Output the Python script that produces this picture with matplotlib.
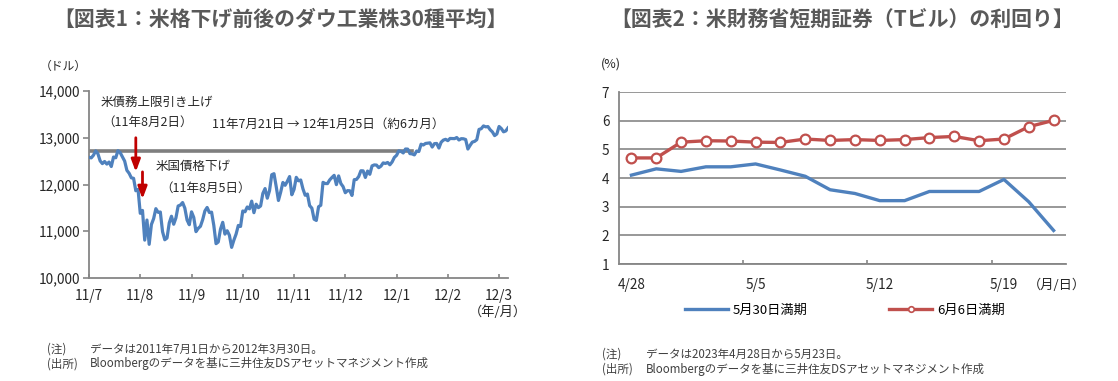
import matplotlib.pyplot as plt
from matplotlib.lines import Line2D
from matplotlib.ticker import FuncFormatter
import numpy as np

plt.rcParams['font.family'] = ['Noto Sans CJK JP', 'DejaVu Sans']

# --- chart 1 data: Dow Jones Industrial Average, daily close, 2011/7/1 - 2012/3/30
dow_jul = [12582, 12569, 12626, 12719, 12657, 12505, 12447, 12492, 12437, 12480,
           12385, 12587, 12572, 12724, 12681, 12592, 12501, 12303, 12240, 12143]
dow_aug = [12132, 11866, 11897, 11384, 11445, 10810, 11240, 10720, 11144, 11270,
           11483, 11406, 11411, 10991, 10818, 10855, 11177, 11321, 11150, 11285,
           11540, 11560, 11614]
dow_sep = [11494, 11240, 11140, 11415, 11296, 10992, 11062, 11106, 11247, 11434,
           11509, 11401, 11408, 11125, 10734, 10771, 11044, 11191, 10939, 11011,
           10913]
dow_oct = [10655, 10809, 10940, 11124, 11103, 11433, 11416, 11519, 11479, 11644,
           11397, 11578, 11505, 11541, 11809, 11913, 11707, 11869, 12209, 12231,
           11955]
dow_nov = [11658, 11836, 12044, 11983, 12069, 12170, 11781, 11894, 12153, 12079,
           12096, 11906, 11770, 11796, 11548, 11494, 11258, 11231, 11524, 11556,
           12046]
dow_dec = [12021, 12019, 12098, 12150, 12196, 11997, 12184, 12021, 11955, 11824,
           11869, 11866, 11766, 12103, 12108, 12169, 12294, 12292, 12151, 12288,
           12218]
dow_jan = [12398, 12419, 12415, 12360, 12393, 12462, 12450, 12471, 12422, 12482,
           12579, 12624, 12720, 12709, 12675, 12759, 12757, 12660, 12654, 12633]
dow_feb = [12716, 12705, 12862, 12845, 12878, 12884, 12891, 12801, 12874, 12878,
           12780, 12904, 12950, 12966, 12938, 12985, 12983, 12981, 13005, 12952]
dow_mar = [12980, 12978, 12962, 12759, 12837, 12907, 12922, 12959, 13178, 13194,
           13253, 13233, 13239, 13171, 13125, 13046, 13081, 13241, 13197, 13127,
           13145, 13212]
dow = dow_jul + dow_aug + dow_sep + dow_oct + dow_nov + dow_dec + dow_jan + dow_feb + dow_mar

dow_tick_idx = [0, 23, 46, 69, 92, 115, 138, 161, 184]
dow_tick_labels = ['11/7', '11/8', '11/9', '11/10', '11/11', '11/12', '12/1', '12/2', '12/3']

ref_level = 12724          # 2011/7/21 close
ref_span = [0, 145]        # drawn until the index recovered it (2012/1/25)
arrow_idx = [21, 24]       # 8/2, 8/5
arrow_top = [13000, 12270]
arrow_tip = [12270, 11690]

# --- chart 2 data: T-bill yields
tb_dates = ['4/28', '5/1', '5/2', '5/3', '5/4', '5/5', '5/8', '5/9', '5/10',
            '5/11', '5/12', '5/15', '5/16', '5/17', '5/18', '5/19', '5/22', '5/23']
may30 = [4.10, 4.32, 4.23, 4.39, 4.39, 4.49, 4.28, 4.06, 3.59,
         3.46, 3.21, 3.21, 3.53, 3.53, 3.53, 3.95, 3.17, 2.17]
jun6 = [4.70, 4.70, 5.25, 5.30, 5.29, 5.25, 5.24, 5.36, 5.31,
        5.34, 5.31, 5.34, 5.41, 5.45, 5.30, 5.36, 5.79, 6.01]

W, H = 1118, 381
fig = plt.figure(figsize=(W / 100, H / 100), dpi=100)


def box(l, t, r, b):
    return [l / W, 1 - b / H, (r - l) / W, (b - t) / H]


def px(x, y):
    return x / W, 1 - y / H


blue = '#4F81BD'
red = '#C0504D'
axis_gray = '#868686'
txt = '#262626'

# ---------------- chart 1
ax1 = fig.add_axes(box(89, 91, 508, 278))
x = np.arange(len(dow))
ax1.plot(ref_span, [ref_level, ref_level], color='#7F7F7F', lw=2.6, zorder=2)
ax1.plot(x, dow, color=blue, lw=2.3, zorder=3)
ax1.set_xlim(0, len(dow) - 1)
ax1.set_ylim(10000, 14000)
ax1.set_yticks([10000, 11000, 12000, 13000, 14000])
ax1.yaxis.set_major_formatter(FuncFormatter(lambda v, p: f'{int(v):,}'))
ax1.set_xticks(dow_tick_idx, dow_tick_labels)
for s in ['top', 'right']:
    ax1.spines[s].set_visible(False)
for s in ['left', 'bottom']:
    ax1.spines[s].set_color(axis_gray)
    ax1.spines[s].set_linewidth(1.3)
ax1.tick_params(axis='y', direction='out', length=4, color=axis_gray, width=1.2,
                labelsize=9.8, pad=2, labelcolor=txt)
ax1.tick_params(axis='x', direction='in', length=3, color=axis_gray, width=1.2,
                labelsize=9.8, pad=8, labelcolor=txt)

for i, t0, t1 in zip(arrow_idx, arrow_top, arrow_tip):
    ax1.annotate('', xy=(i, t1), xytext=(i, t0),
                 arrowprops=dict(arrowstyle='-|>,head_width=0.3,head_length=0.8',
                                 color='#C00000', lw=2.0, shrinkA=0, shrinkB=0,
                                 mutation_scale=9), zorder=4)

fig.text(*px(101, 102), '米債務上限引き上げ', fontsize=9, color=txt, va='center')
fig.text(*px(102, 122), '（11年8月2日）', fontsize=9, color=txt, va='center')
fig.text(*px(212, 124), '11年7月21日 → 12年1月25日（約6カ月）', fontsize=9, color=txt, va='center')
fig.text(*px(156, 166), '米国債格下げ', fontsize=9, color=txt, va='center')
fig.text(*px(160, 188), '（11年8月5日）', fontsize=9, color=txt, va='center')

fig.text(*px(280, 19), '【図表1：米格下げ前後のダウ工業株30種平均】', fontsize=15,
         fontweight='bold', color='#595959', ha='center', va='center')
fig.text(*px(63, 66), '（ドル）', fontsize=8.5, color=txt, ha='center', va='center')
fig.text(*px(498, 312), '（年/月）', fontsize=9.5, color=txt, ha='center', va='center')

fig.text(*px(47, 349), '(注)', fontsize=8.3, color='#404040', va='center')
fig.text(*px(90, 349), 'データは2011年7月1日から2012年3月30日。', fontsize=8.3, color='#404040', va='center')
fig.text(*px(47, 364), '(出所)', fontsize=8.3, color='#404040', va='center')
fig.text(*px(90, 364), 'Bloombergのデータを基に三井住友DSアセットマネジメント作成', fontsize=8.3,
         color='#404040', va='center')

# ---------------- chart 2
ax2 = fig.add_axes(box(619, 92, 1066, 264))
xr = np.arange(len(tb_dates))
ax2.plot(xr, may30, color=blue, lw=2.4, zorder=3)
ax2.plot(xr, jun6, color=red, lw=2.4, marker='o', ms=7, mfc='white', mec=red,
         mew=1.6, zorder=4)
ax2.set_xlim(-0.5, len(tb_dates) - 0.5)
ax2.set_ylim(1, 7)
ax2.set_yticks(range(1, 8))
ax2.yaxis.grid(True, color=axis_gray, lw=1.2)
ax2.set_axisbelow(True)
lab_idx = [0, 5, 10, 15]
ax2.set_xticks(lab_idx, [tb_dates[i] for i in lab_idx])
ax2.set_xticks([4.5, 9.5, 14.5], minor=True)
for s in ['top', 'right']:
    ax2.spines[s].set_visible(False)
for s in ['left', 'bottom']:
    ax2.spines[s].set_color(axis_gray)
    ax2.spines[s].set_linewidth(1.3)
ax2.tick_params(axis='y', length=0, labelsize=9.8, pad=7, labelcolor=txt)
ax2.tick_params(axis='x', which='major', length=0, labelsize=9.8, pad=10, labelcolor=txt)
ax2.tick_params(axis='x', which='minor', direction='in', length=3, color=axis_gray, width=1.2)

handles = [Line2D([], [], color=blue, lw=2.4),
           Line2D([], [], color=red, lw=2.4, marker='o', ms=4, mfc='white', mec=red, mew=1.2)]
fig.legend(handles, ['5月30日満期', '6月6日満期'], loc='center', ncol=2,
           bbox_to_anchor=px(845, 310), frameon=False, fontsize=9.5,
           handlelength=3.2, handletextpad=0.4, columnspacing=6.2)

fig.text(*px(842, 19), '【図表2：米財務省短期証券（Tビル）の利回り】', fontsize=15,
         fontweight='bold', color='#595959', ha='center', va='center')
fig.text(*px(611, 64), '(%)', fontsize=9, color=txt, ha='center', va='center')
fig.text(*px(1057, 285), '（月/日）', fontsize=9.5, color=txt, ha='center', va='center')

fig.text(*px(602, 354), '(注)', fontsize=8.3, color='#404040', va='center')
fig.text(*px(646, 354), 'データは2023年4月28日から5月23日。', fontsize=8.3, color='#404040', va='center')
fig.text(*px(602, 369), '(出所)', fontsize=8.3, color='#404040', va='center')
fig.text(*px(646, 369), 'Bloombergのデータを基に三井住友DSアセットマネジメント作成', fontsize=8.3,
         color='#404040', va='center')

fig.savefig('out.png', dpi=100)
